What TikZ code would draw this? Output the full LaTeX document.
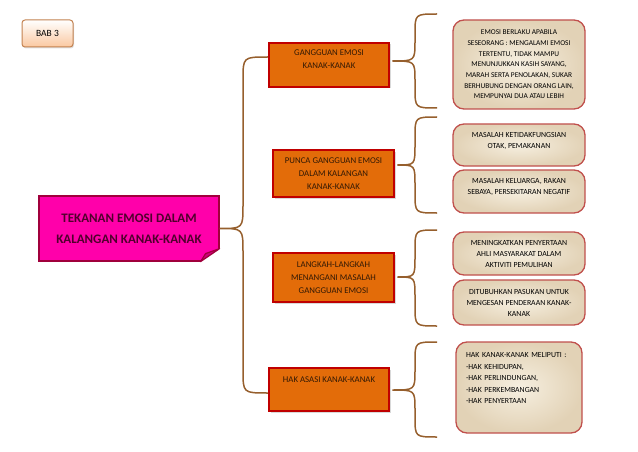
\documentclass[tikz,border=0pt]{standalone}
\usepackage{fontspec}
\setmainfont{Carlito}
\usepackage{tikz}
\usetikzlibrary{positioning, calc, shadows}
\definecolor{boxorange}{RGB}{227,108,9}
\definecolor{boxred}{RGB}{192,0,0}
\definecolor{branchtext}{RGB}{50,25,5}
\definecolor{hotpink}{RGB}{255,0,170}
\definecolor{pinkedge}{RGB}{160,0,60}
\definecolor{pinkfold}{RGB}{205,0,125}
\definecolor{maintext}{RGB}{80,0,45}
\definecolor{bracebrown}{RGB}{150,95,45}
\definecolor{parchlight}{RGB}{246,239,224}
\definecolor{parchdark}{RGB}{226,210,182}
\definecolor{noteedge}{RGB}{192,80,77}
\definecolor{peach}{RGB}{250,200,160}
\definecolor{peachedge}{RGB}{195,130,80}

\begin{document}
\begin{tikzpicture}[
    x=1pt, y=-1pt,
    chapter/.style={rectangle, rounded corners=3pt, draw=peachedge, line width=1pt, top color=white, bottom color=peach, minimum width=51pt, minimum height=27pt, inner sep=0pt, font=\fontsize{9.5}{11}\selectfont, drop shadow={opacity=0.25, shadow xshift=1pt, shadow yshift=-1.5pt}},
    topic/.style={rectangle, draw=pinkedge, line width=1.2pt, fill=hotpink, minimum width=180pt, minimum height=65pt, inner sep=0pt, align=center, text=maintext, font=\fontsize{13}{21}\selectfont\bfseries},
    branch/.style={rectangle, draw=boxred, line width=2.5pt, fill=boxorange, inner sep=0pt, align=center, text=branchtext, font=\fontsize{8.8}{13}\selectfont, drop shadow={opacity=0.3, shadow xshift=1.5pt, shadow yshift=-1.5pt}},
    note/.style={rectangle, rounded corners=11pt, draw=noteedge, line width=1.3pt, inner color=parchlight, outer color=parchdark, minimum width=132pt, inner sep=0pt, align=center, font=\fontsize{7.8}{11}\selectfont},
    brace/.style={draw=bracebrown, line width=1.5pt}
]
\useasboundingbox (0,0) rectangle (638,452);

% Title and main topic
\node[chapter] (bab) at (47.5,33.5) {BAB 3};
\node[topic] (main) at (129,228.5) {TEKANAN EMOSI DALAM\\KALANGAN KANAK-KANAK};
\fill[white] ($(main.south east)+(0,-13)$) -- ($(main.south east)+(3,-13)$) -- ($(main.south east)+(3,3)$) -- ($(main.south east)+(-19,3)$) -- ($(main.south east)+(-19,0)$) -- cycle;
\draw[pinkedge, line width=1.2pt, fill=pinkfold, line join=round] ($(main.south east)+(0,-13)$) -- ($(main.south east)+(-14,-8)$) -- ($(main.south east)+(-19,0)$) -- cycle;

% Branches
\node[branch, minimum width=120pt, minimum height=44pt, text height=10pt, text depth=2pt] (gangguan) at (329,65) {GANGGUAN EMOSI\\KANAK-KANAK};
\node[branch, minimum width=121pt, minimum height=47pt] (punca) at (333.5,173.5) {PUNCA GANGGUAN EMOSI\\DALAM KALANGAN\\KANAK-KANAK};
\node[branch, minimum width=121pt, minimum height=49pt] (langkah) at (333.5,277.5) {LANGKAH-LANGKAH\\MENANGANI MASALAH\\GANGGUAN EMOSI};
\node[branch, minimum width=120pt, minimum height=43pt, text height=6pt, text depth=21pt] (hak) at (329,389.5) {HAK ASASI KANAK-KANAK};

% Notes
\node[note, minimum height=89pt, font=\fontsize{7.4}{10.7}\selectfont] (emosi) at (519,64.5) {EMOSI BERLAKU APABILA\\SESEORANG : MENGALAMI EMOSI\\TERTENTU, TIDAK MAMPU\\MENUNJUKKAN KASIH SAYANG,\\MARAH SERTA PENOLAKAN, SUKAR\\BERHUBUNG DENGAN ORANG LAIN,\\MEMPUNYAI DUA ATAU LEBIH};
\node[note, minimum height=42pt, text height=9pt, text depth=2pt] (otak) at (519,145) {MASALAH KETIDAKFUNGSIAN\\OTAK, PEMAKANAN};
\node[note, minimum height=43pt, text height=7pt, text depth=2pt] (keluarga) at (519,191.5) {MASALAH KELUARGA, RAKAN\\SEBAYA, PERSEKITARAN NEGATIF};
\node[note, minimum height=43pt] (penyertaan) at (519,253.5) {MENINGKATKAN PENYERTAAN\\AHLI MASYARAKAT DALAM\\AKTIVITI PEMULIHAN};
\node[note, minimum height=45pt] (pasukan) at (519,302.5) {DITUBUHKAN PASUKAN UNTUK\\MENGESAN PENDERAAN KANAK-\\KANAK};
\node[note, minimum width=126pt, minimum height=91pt, align=left, text width=106pt, text height=5pt, text depth=65pt, font=\fontsize{7.8}{11.6}\selectfont] (hakkanak) at (519,387.5) {HAK KANAK-KANAK MELIPUTI :\\-HAK KEHIDUPAN,\\-HAK PERLINDUNGAN,\\-HAK PERKEMBANGAN\\-HAK PENYERTAAN};

% Braces
\draw[brace] ([yshift=8pt]gangguan.west) .. controls (243,57) .. (243,80) -- (243,205) .. controls (243,228.5) .. (main.east) .. controls (243,228.5) .. (243,252) -- (243,370) .. controls (243,393) .. ([yshift=-3.5pt]hak.west);
\foreach \b/\ty/\ta/\tb in {gangguan/61/14/108, punca/165/117/213, langkah/277/230/326, hak/390/342/437}{
  \coordinate (\b-top) at (437,\ta);
  \coordinate (\b-end) at (437,\tb);
  \draw[brace] (\b-top) .. controls (415,\ta) .. (415,\ta+20) -- (415,\ty-20) .. controls (415,\ty) .. ($(\b.east|-0,\ty)+(2,0)$) .. controls (415,\ty) .. (415,\ty+20) -- (415,\tb-20) .. controls (415,\tb) .. (\b-end);
}
\end{tikzpicture}
\end{document}
